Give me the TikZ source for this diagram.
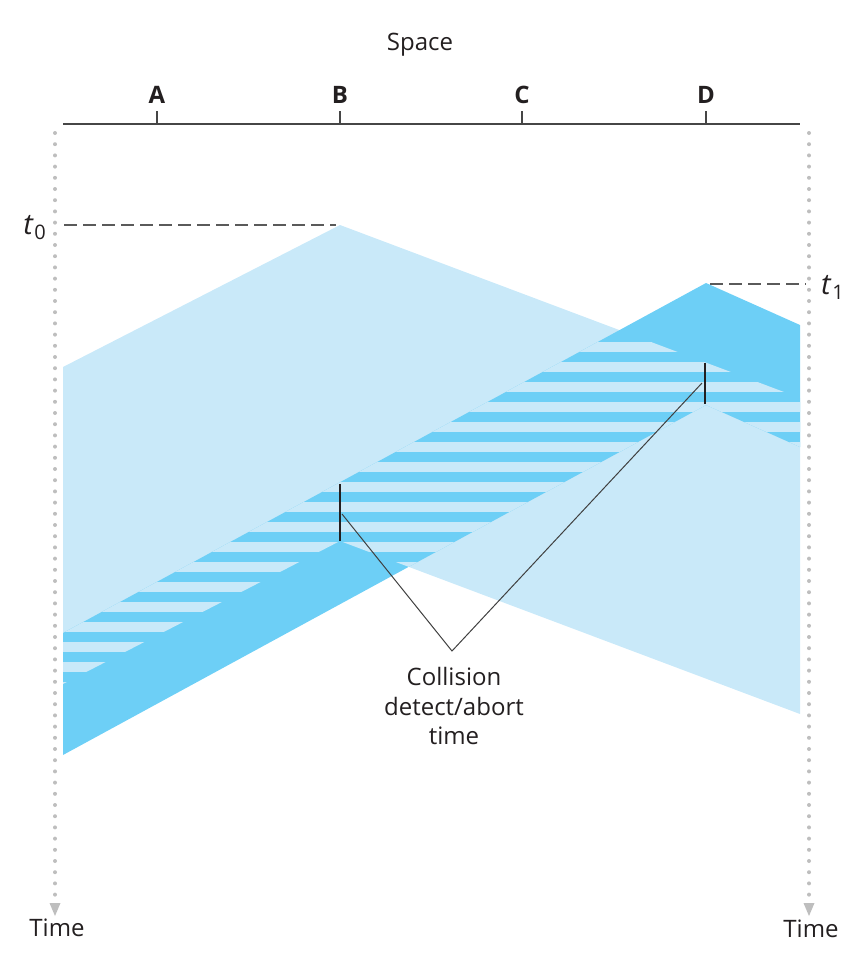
\documentclass[tikz,border=0pt]{standalone}
\usepackage{fontspec}
\setmainfont{Open Sans}
\definecolor{lightb}{RGB}{201,233,249}
\definecolor{darkb}{RGB}{109,207,246}
\definecolor{txt}{RGB}{35,31,32}
\definecolor{dotc}{RGB}{190,190,190}
\definecolor{axisc}{RGB}{70,70,70}
\definecolor{dashc}{RGB}{90,90,90}
\tikzset{
  lbl/.style={text=txt, font=\fontsize{24}{29}\selectfont, inner sep=0pt},
  stn/.style={text=txt, font=\fontsize{24}{29}\selectfont\bfseries, inner sep=0pt},
  tlbl/.style={text=txt, font=\fontsize{29}{32}\selectfont, inner sep=0pt},
  timeaxis/.style={dotc, line width=4pt, dash pattern=on 0pt off 11.2pt, line cap=round},
  tmark/.style={dashc, line width=2pt, dash pattern=on 13pt off 6pt},
  tickline/.style={axisc, line width=1.5pt},
  cbar/.style={txt, line width=2.5pt},
  callout/.style={black!75, line width=1pt},
}
\begin{document}
\begin{tikzpicture}[x=1pt,y=-1pt]
\useasboundingbox (0,0) rectangle (848,970);

% B's signal (light)
\fill[lightb] (340,225) -- (800,398) -- (800,714) -- (340,541) -- (63,684) -- (63,367) -- cycle;
% D's signal (dark)
\fill[darkb] (706,283) -- (800,325) -- (800,447) -- (706,405) -- (63,755) -- (63,633) -- cycle;
% overlap: stripes
\begin{scope}
  \clip (340,225) -- (800,398) -- (800,714) -- (340,541) -- (63,684) -- (63,367) -- cycle;
  \clip (706,283) -- (800,325) -- (800,447) -- (706,405) -- (63,755) -- (63,633) -- cycle;
  \foreach \k in {0,...,21}
    \fill[lightb] (60,{341.7+20*\k}) rectangle (805,{351.7+20*\k});
\end{scope}

% space axis
\coordinate (axL) at (63,124);
\coordinate (axR) at (800,124);
\draw[axisc, line width=2pt] (axL) -- (axR);
\node[lbl] (space) at (420,45) {Space};
\node[stn] (A) at (157,95) {A};
\node[stn] (B) at (340,95) {B};
\node[stn] (C) at (522,95) {C};
\node[stn] (D) at (706,95) {D};
\foreach \s/\x in {A/157,B/340,C/522,D/706}
  \draw[tickline] (\x,124) -- (\x,111);

% time axes
\coordinate (lt) at (55,133);
\coordinate (lb) at (55,897);
\coordinate (rt) at (809,133);
\coordinate (rb) at (809,897);
\draw[timeaxis] (lt) -- (lb);
\draw[timeaxis] (rt) -- (rb);
\fill[dotc] (49.5,903) -- (60.5,903) -- (55,916) -- cycle;
\fill[dotc] (803.5,903) -- (814.5,903) -- (809,916) -- cycle;
\node[lbl] (ltime) at (57,928) {Time};
\node[lbl] (rtime) at (811,929) {Time};

% t0 and t1
\coordinate (t0a) at (64,225);
\coordinate (t0b) at (336,225);
\draw[tmark] (t0a) -- (t0b);
\node[tlbl, anchor=east] (t0) at (46,228) {\itshape t\kern1.5pt\raisebox{-5pt}{\upshape\fontsize{20}{20}\selectfont 0}};
\coordinate (t1a) at (710,284);
\coordinate (t1b) at (806,284);
\draw[tmark] (t1a) -- (t1b);
\node[tlbl, anchor=west] (t1) at (821,287) {\itshape t\kern1.5pt\raisebox{-5pt}{\upshape\fontsize{20}{20}\selectfont 1}};

% collision bars
\coordinate (bB1) at (340,484);
\coordinate (bB2) at (340,541);
\coordinate (bD1) at (705,363);
\coordinate (bD2) at (705,404);
\draw[cbar] (bB1) -- (bB2);
\draw[cbar] (bD1) -- (bD2);

% callout
\node[lbl, align=center, font=\fontsize{24}{29.5}\selectfont] (coll) at (454,706) {Collision\\detect/abort\\time};
\coordinate (apex) at (452,651);
\coordinate (pB) at (342,514);
\coordinate (pD) at (702,383);
\draw[callout] (pB) -- (apex) -- (pD);
\end{tikzpicture}
\end{document}
